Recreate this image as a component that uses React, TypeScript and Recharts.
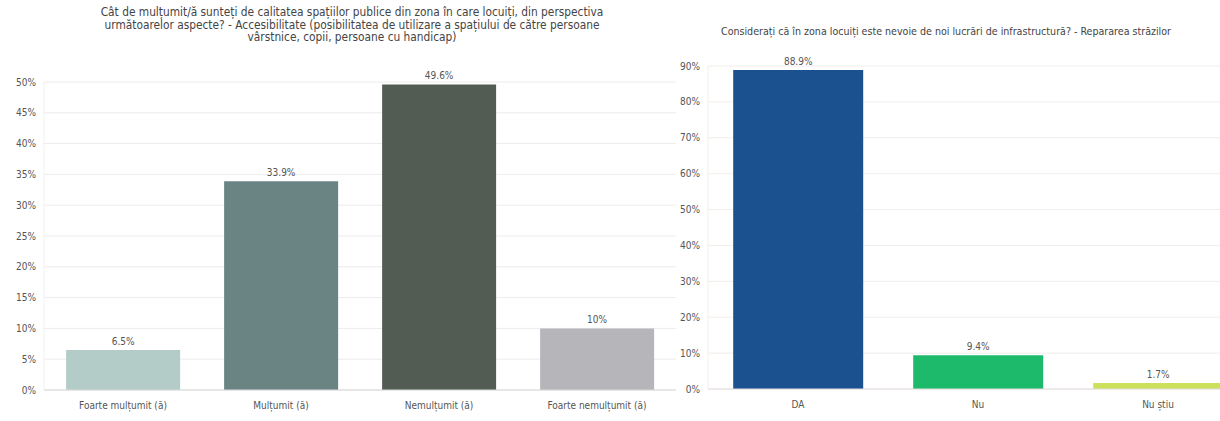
import React from 'react'
import { BarChart, Bar, XAxis, YAxis, CartesianGrid, Cell, LabelList } from 'recharts'

// stânga: accesibilitate
const leftCategories = ['Foarte mulțumit (ă)', 'Mulțumit (ă)', 'Nemulțumit (ă)', 'Foarte nemulțumit (ă)']
const leftValues = [6.5, 33.9, 49.6, 10]
const leftTicks = [0, 5, 10, 15, 20, 25, 30, 35, 40, 45, 50]
const leftColors = ['#b3ccc7', '#6a8483', '#535c53', '#b6b6ba']

// dreapta: repararea străzilor
const rightCategories = ['DA', 'Nu', 'Nu știu']
const rightValues = [88.9, 9.4, 1.7]
const rightTicks = [0, 10, 20, 30, 40, 50, 60, 70, 80, 90]
const rightColors = ['#1c5190', '#1eba6c', '#cbe05b']

const FONT = '"Liberation Sans Narrow", "DejaVu Sans Condensed", "Liberation Sans", sans-serif'
const pct = (v: any) => `${v}%`

const tickStyle = { fontSize: 10, fill: '#555', fontFamily: FONT }

export default function App() {
  const leftData = leftCategories.map((name, i) => ({ name, value: leftValues[i] }))
  const rightData = rightCategories.map((name, i) => ({ name, value: rightValues[i] }))

  return (
    <div
      style={{
        position: 'absolute',
        left: 0,
        top: 0,
        width: 1220,
        height: 421,
        overflow: 'hidden',
        background: '#fff',
        fontFamily: FONT,
      }}
    >
      <div
        style={{
          position: 'absolute',
          left: 32,
          width: 640,
          top: 6,
          textAlign: 'center',
          fontSize: 11.8,
          lineHeight: '12.5px',
          color: '#444',
        }}
      >
        Cât de mulțumit/ă sunteți de calitatea spațiilor publice din zona în care locuiți, din perspectiva
        <br />
        următoarelor aspecte? - Accesibilitate (posibilitatea de utilizare a spațiului de către persoane
        <br />
        vârstnice, copii, persoane cu handicap)
      </div>
      <div
        style={{
          position: 'absolute',
          left: 646,
          width: 600,
          top: 25,
          textAlign: 'center',
          fontSize: 10.6,
          lineHeight: '13px',
          color: '#444',
        }}
      >
        Considerați că în zona locuiți este nevoie de noi lucrări de infrastructură? - Repararea străzilor
      </div>

      <div style={{ position: 'absolute', left: 0, top: 0 }}>
        <BarChart
          width={676}
          height={421}
          data={leftData}
          margin={{ top: 82, right: 0, bottom: 1, left: 0 }}
          barCategoryGap="14%"
        >
          <CartesianGrid vertical={false} stroke="#ececec" />
          <XAxis
            dataKey="name"
            interval={0}
            tickLine={false}
            axisLine={{ stroke: '#d8d8d8' }}
            tick={tickStyle}
            tickMargin={6}
            height={30}
          />
          <YAxis
            domain={[0, 50]}
            ticks={leftTicks}
            tickFormatter={pct}
            width={44}
            tickLine={false}
            axisLine={{ stroke: '#f0f0f0' }}
            tick={tickStyle}
          />
          <Bar dataKey="value" isAnimationActive={false}>
            {leftData.map((d, i) => (
              <Cell key={d.name} fill={leftColors[i]} />
            ))}
            <LabelList dataKey="value" position="top" formatter={pct} style={{ fontSize: 10, fill: '#555', fontFamily: FONT }} />
          </Bar>
        </BarChart>
      </div>

      <div style={{ position: 'absolute', left: 670, top: 0 }}>
        <BarChart
          width={578}
          height={421}
          data={rightData}
          margin={{ top: 66, right: 0, bottom: 2, left: 0 }}
          barCategoryGap="14%"
        >
          <CartesianGrid vertical={false} stroke="#f1eeea" />
          <XAxis
            dataKey="name"
            interval={0}
            tickLine={false}
            axisLine={{ stroke: '#e2dcdc' }}
            tick={tickStyle}
            tickMargin={6}
            height={30}
          />
          <YAxis
            domain={[0, 90]}
            ticks={rightTicks}
            tickFormatter={pct}
            width={38}
            tickLine={false}
            axisLine={{ stroke: '#f6eee6' }}
            tick={tickStyle}
          />
          <Bar dataKey="value" isAnimationActive={false}>
            {rightData.map((d, i) => (
              <Cell key={d.name} fill={rightColors[i]} />
            ))}
            <LabelList dataKey="value" position="top" formatter={pct} style={{ fontSize: 10, fill: '#555', fontFamily: FONT }} />
          </Bar>
        </BarChart>
      </div>
    </div>
  )
}
